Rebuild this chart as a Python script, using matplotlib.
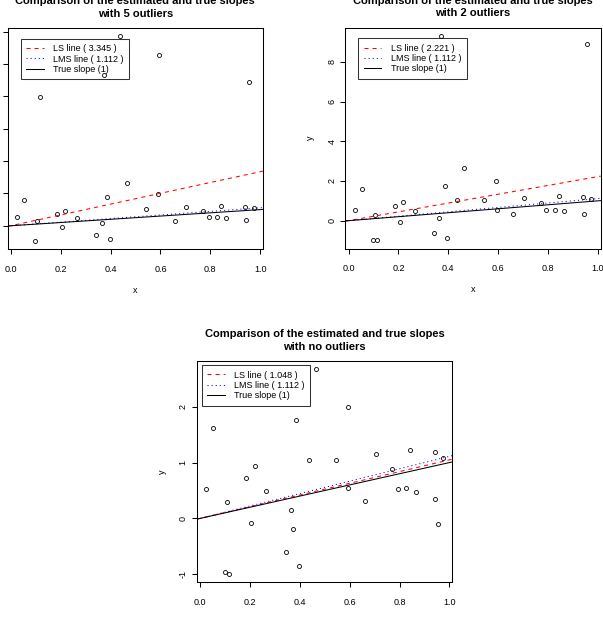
#!/usr/bin/env python

"""Comparison of the estimated (LS, LMS) and true slopes for three data sets"""

import matplotlib
matplotlib.use("Agg")
import matplotlib.pyplot as plt

plt.rcParams["font.family"] = ["Liberation Sans", "DejaVu Sans"]
plt.rcParams["lines.scale_dashes"] = False

#{{{data
# Same x values in every panel
xVals = [0.025, 0.053, 0.099, 0.107, 0.116, 0.185, 0.205, 0.219, 0.265, 0.343,
         0.364, 0.372, 0.385, 0.396, 0.436, 0.464, 0.544, 0.592, 0.595, 0.660,
         0.704, 0.771, 0.793, 0.827, 0.843, 0.864, 0.940, 0.943, 0.956, 0.973]

yFiveOutliers = [0.52, 1.61, -0.95, 0.30, 7.96, 0.72, -0.09, 0.93, 0.49, -0.60,
                 0.15, 9.32, 1.77, -0.85, 11.71, 2.67, 1.04, 1.99, 10.58, 0.32,
                 1.15, 0.89, 0.52, 0.54, 1.23, 0.48, 1.18, 0.34, 8.88, 1.08]

yTwoOutliers = [0.52, 1.61, -0.95, 0.30, -0.99, 0.72, -0.09, 0.93, 0.49, -0.60,
                0.15, 9.32, 1.77, -0.85, 1.04, 2.67, 1.04, 1.99, 0.55, 0.32,
                1.15, 0.89, 0.52, 0.54, 1.23, 0.48, 1.18, 0.34, 8.88, 1.08]

yNoOutliers = [0.52, 1.61, -0.95, 0.30, -0.99, 0.72, -0.09, 0.93, 0.49, -0.60,
               0.15, -0.19, 1.77, -0.85, 1.04, 2.67, 1.04, 1.99, 0.55, 0.32,
               1.15, 0.89, 0.52, 0.54, 1.23, 0.48, 1.18, 0.34, -0.10, 1.08]

lsSlopes  = [3.345, 2.221, 1.048]
lmsSlope  = 1.112
trueSlope = 1

subTitles   = ["with 5 outliers", "with 2 outliers", "with no outliers"]
yTicks      = [[0, 2, 4, 6, 8, 10, 12], [0, 2, 4, 6, 8], [-1, 0, 1, 2]]
xTicks      = [0.0, 0.2, 0.4, 0.6, 0.8, 1.0]
xTickLabels = ["0.0", "0.2", "0.4", "0.6", "0.8", "1.0"]
#}}}

W, H = 603, 618
baseSize  = 6.45
titleSize = 8.0


def pixRect(left, top, width=255.5, height=221.0):
    """Axes rectangle from pixel position (top left corner)"""
    return [left/W, (H - top - height)/H, width/W, height/H]


def rLimits(vals):
    """Axis limits the way R pads them (4 %)"""
    lo, hi = min(vals), max(vals)
    pad = 0.04*(hi - lo)
    return lo - pad, hi + pad


def slopePanel(fig, rect, yVals, lsSlope, subTitle, ticks, legAnchor):
    ax = fig.add_axes(rect)

    ax.plot(xVals, yVals, linestyle="none", marker="o", markersize=2.9,
            markerfacecolor="none", markeredgecolor="black",
            markeredgewidth=0.6)

    lsLine = ax.axline((0, 0), slope=lsSlope, color="red", linewidth=0.75,
                       dashes=(2.9, 2.9),
                       label="LS line ( {} )".format(lsSlope))
    lmsLine = ax.axline((0, 0), slope=lmsSlope, color="blue", linewidth=0.75,
                        dashes=(0.75, 2.2),
                        label="LMS line ( {} )".format(lmsSlope))
    trueLine = ax.axline((0, 0), slope=trueSlope, color="black",
                         linewidth=0.75,
                         label="True slope ({})".format(trueSlope))

    ax.set_xlim(*rLimits(xVals))
    ax.set_ylim(*rLimits(yVals))
    ax.set_xticks(xTicks)
    ax.set_xticklabels(xTickLabels)
    ax.set_yticks(ticks)
    ax.set_yticklabels([str(t) for t in ticks], rotation=90, va="center")

    ax.tick_params(axis="both", direction="out", length=3.6, width=0.75,
                   labelsize=baseSize, colors="black")
    ax.tick_params(axis="x", pad=7.8)
    ax.tick_params(axis="y", pad=2.8)
    for spine in ax.spines.values():
        spine.set_linewidth(0.75)
        spine.set_color("black")

    # Axis labels
    ax.annotate("x", xy=(0.5, 0), xycoords="axes fraction",
                xytext=(0, -41), textcoords="offset pixels",
                ha="center", va="center", fontsize=baseSize)
    ax.annotate("y", xy=(0, 0.5), xycoords="axes fraction",
                xytext=(-34.6, 0), textcoords="offset pixels",
                ha="center", va="center", rotation=90, fontsize=baseSize)

    # Two line title
    ax.annotate("Comparison of the estimated and true slopes",
                xy=(0.5, 1), xycoords="axes fraction",
                xytext=(0, 27), textcoords="offset pixels",
                ha="center", va="center", fontsize=titleSize,
                fontweight="bold")
    ax.annotate(subTitle, xy=(0.5, 1), xycoords="axes fraction",
                xytext=(0, 14.3), textcoords="offset pixels",
                ha="center", va="center", fontsize=titleSize,
                fontweight="bold")

    leg = ax.legend(handles=[lsLine, lmsLine, trueLine], loc="upper left",
                    bbox_to_anchor=legAnchor, borderaxespad=0,
                    fontsize=baseSize, fancybox=False, facecolor="none",
                    edgecolor="black", handlelength=1.95, handletextpad=1.05,
                    borderpad=0.62, labelspacing=0.15)
    leg.get_frame().set_linewidth(0.75)
    return ax


fig = plt.figure(figsize=(W/100, H/100), dpi=100)

slopePanel(fig, pixRect(7.5, 28.3), yFiveOutliers, lsSlopes[0],
           subTitles[0], yTicks[0], (0.052, 0.953))
slopePanel(fig, pixRect(345.3, 27.5), yTwoOutliers, lsSlopes[1],
           subTitles[1], yTicks[1], (0.050, 0.952))
slopePanel(fig, pixRect(196.7, 361.0), yNoOutliers, lsSlopes[2],
           subTitles[2], yTicks[2], (0.020, 0.982))

fig.savefig("out.png", dpi=100)
